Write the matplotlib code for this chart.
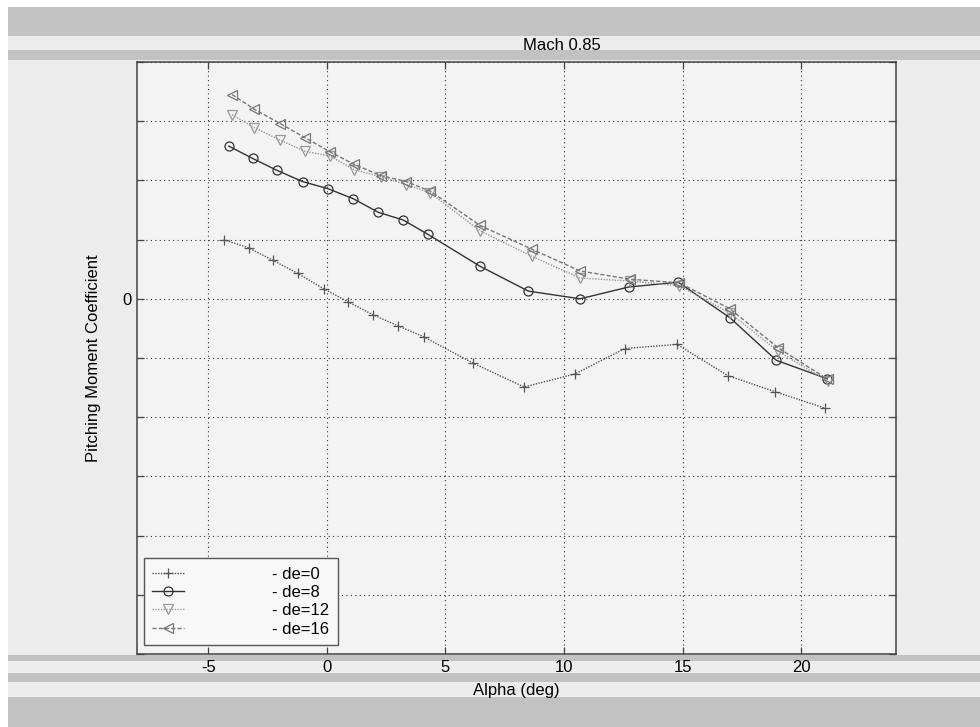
import matplotlib
matplotlib.use("Agg")
import matplotlib.pyplot as plt
from matplotlib.patches import Rectangle
from matplotlib.ticker import FixedLocator, FixedFormatter

plt.rcParams['font.family'] = ['Liberation Sans', 'DejaVu Sans']
plt.rcParams['axes.unicode_minus'] = False

# ---- data ----
alpha_de0 = [-4.35, -3.29, -2.27, -1.23, -0.13, 0.89, 1.95, 3.02, 4.08, 6.18, 8.32, 10.46, 12.57, 14.77, 16.92, 18.91, 21.02]
cm_de0 = [0.050, 0.043, 0.0325, 0.0215, 0.0085, -0.0025, -0.0135, -0.023, -0.032, -0.0545, -0.0745, -0.0635, -0.042, -0.0385, -0.065, -0.0785, -0.0925]

alpha_de8 = [-4.13, -3.12, -2.10, -1.02, 0.05, 1.12, 2.18, 3.23, 4.26, 6.46, 8.50, 10.68, 12.74, 14.82, 17.0, 18.96, 21.1]
cm_de8 = [0.129, 0.1185, 0.1085, 0.099, 0.093, 0.0845, 0.073, 0.0665, 0.0545, 0.0275, 0.0065, 0.0, 0.010, 0.014, -0.016, -0.052, -0.0675]

alpha_de12 = [-3.99, -3.05, -1.96, -0.91, 0.15, 1.16, 2.29, 3.35, 4.36, 6.46, 8.64, 10.68, 12.8, 14.86, 17.0, 19.04, 21.12]
cm_de12 = [0.1555, 0.1445, 0.134, 0.1245, 0.1205, 0.109, 0.103, 0.0965, 0.0895, 0.0575, 0.036, 0.0175, 0.015, 0.011, -0.012, -0.0445, -0.0695]

alpha_de16 = [-3.99, -3.05, -1.96, -0.91, 0.15, 1.16, 2.29, 3.35, 4.36, 6.46, 8.64, 10.68, 12.8, 14.86, 17.0, 19.04, 21.12]
cm_de16 = [0.1725, 0.160, 0.148, 0.136, 0.124, 0.1135, 0.104, 0.099, 0.091, 0.062, 0.042, 0.0235, 0.0165, 0.0135, -0.0085, -0.0415, -0.068]

labels = ['- de=0', '- de=8', '- de=12', '- de=16']
x_ticks = [-5, 0, 5, 10, 15, 20]
y_ticks = [-0.30, -0.25, -0.20, -0.15, -0.10, -0.05, 0.0, 0.05, 0.10, 0.15, 0.20]
y_ticklabels = ['', '', '', '', '', '', '0', '', '', '', '']

# ---- figure ----
W, H = 980, 727
fig = plt.figure(figsize=(W / 100, H / 100), dpi=100)
fig.patch.set_facecolor('#ececec')

def band(y0, y1, color):
    fig.add_artist(Rectangle((0, 1 - y1 / H), 1, (y1 - y0) / H, transform=fig.transFigure,
                             facecolor=color, edgecolor='none', zorder=-5))

dark = '#c2c2c2'
band(0, 7, '#ffffff')
band(7, 36, dark)
band(50, 60, dark)
band(655, 661, dark)
band(673, 682, dark)
band(697, 727, dark)
fig.add_artist(Rectangle((0, 0), 8 / W, 1, transform=fig.transFigure,
                         facecolor='#ffffff', edgecolor='none', zorder=-4))

ax = fig.add_axes([137 / W, 1 - 654 / H, (896 - 137) / W, (654 - 62) / H])
ax.set_facecolor('#f3f3f3')

ms = 6.5
ax.plot(alpha_de0, cm_de0, color='#555555', linestyle=(0, (1, 1)), linewidth=1.0,
        marker='+', markersize=7, markeredgewidth=0.9, label=labels[0])
ax.plot(alpha_de8, cm_de8, color='#333333', linestyle='-', linewidth=1.0,
        marker='o', markersize=ms, markerfacecolor='none', markeredgewidth=0.9, label=labels[1])
ax.plot(alpha_de12, cm_de12, color='#999999', linestyle=(0, (1, 1)), linewidth=1.0,
        marker='v', markersize=ms, markerfacecolor='none', markeredgewidth=0.9, label=labels[2])
ax.plot(alpha_de16, cm_de16, color='#777777', linestyle=(0, (3, 1.5)), linewidth=1.0,
        marker='<', markersize=ms, markerfacecolor='none', markeredgewidth=0.9, label=labels[3])

ax.set_xlim(-8, 24)
ax.set_ylim(-0.30, 0.20)
ax.xaxis.set_major_locator(FixedLocator(x_ticks))
ax.yaxis.set_major_locator(FixedLocator(y_ticks))
ax.yaxis.set_major_formatter(FixedFormatter(y_ticklabels))

ax.grid(True, color='#333333', linestyle=(0, (1, 3)), linewidth=0.8)
ax.tick_params(direction='in', length=5, width=0.9, color='#444444',
               top=True, right=True, labelsize=12, pad=4)
for s in ax.spines.values():
    s.set_color('#444444')
    s.set_linewidth(1.1)

ax.set_title('Mach 0.85', fontsize=12, pad=9, x=0.56)
ax.set_xlabel('Alpha (deg)', fontsize=12, labelpad=6)
ax.set_ylabel('Pitching Moment Coefficient', fontsize=12, labelpad=15)

leg = ax.legend(loc='lower left', bbox_to_anchor=(7 / 759, 9 / 592), borderaxespad=0,
                fontsize=12, handlelength=1.9, handletextpad=5.3,
                labelspacing=0.2, fancybox=False, framealpha=1,
                facecolor='#f8f8f8', edgecolor='#555555', borderpad=0.5)
leg.get_frame().set_linewidth(1.0)

fig.savefig('out.png', dpi=100, facecolor=fig.get_facecolor())
